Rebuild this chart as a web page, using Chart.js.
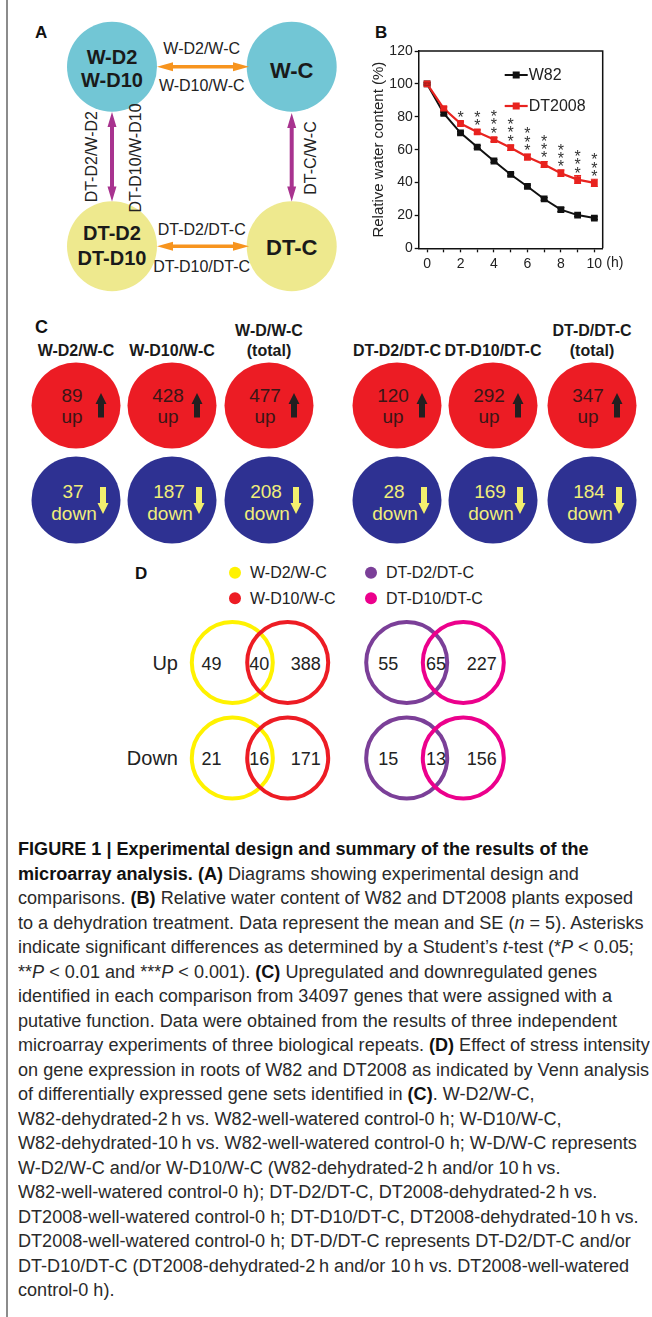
<!DOCTYPE html>
<html>
<head>
<meta charset="utf-8">
<script src="https://cdn.jsdelivr.net/npm/chart.js@4.4.1/dist/chart.umd.min.js"></script>
<style>
  body { margin: 0; background: #fff; width: 652px; height: 1317px; position: relative; overflow: hidden;
         font-family: "Liberation Sans", Arial, sans-serif; }
  #frame { position: absolute; left: 6px; top: 0; width: 1.5px; height: 1317px; background: #8c8c8c; }
  #fig { position: absolute; left: 0; top: 0; }
  #chartB { position: absolute; left: 360px; top: 36px; }
  #caption { position: absolute; left: 18px; top: 837px; font-family: "Liberation Sans Narrow", "Liberation Sans", Arial, sans-serif;
             font-size: 18px; line-height: 24.5px; color: #2a2a2a; white-space: nowrap; transform-origin: 0 0; }
  #caption b { color: #111; }
  svg text { font-family: "Liberation Sans", Arial, sans-serif; }
</style>
</head>
<body>
<div id="frame"></div>

<svg id="fig" width="652" height="830" xmlns="http://www.w3.org/2000/svg">
  <!-- panel A -->
  <text x="35" y="38" font-size="17" font-weight="bold" fill="#111">A</text>
  <circle cx="112" cy="66.7" r="45" fill="#72c6d5"/>
  <circle cx="291.7" cy="66.7" r="45" fill="#72c6d5"/>
  <circle cx="112" cy="246.3" r="45" fill="#eee98e"/>
  <circle cx="291.7" cy="246.3" r="45" fill="#eee98e"/>
  <g font-weight="bold" fill="#1a1a1a" text-anchor="middle" dominant-baseline="central">
    <text x="112" y="56.7" font-size="20">W-D2</text>
    <text x="112" y="80" font-size="20">W-D10</text>
    <text x="291.7" y="70" font-size="22">W-C</text>
    <text x="112" y="233.3" font-size="20">DT-D2</text>
    <text x="112" y="258.3" font-size="20">DT-D10</text>
    <text x="291.7" y="247" font-size="22">DT-C</text>
  </g>
  <g id="arrowsA"></g>
  <g font-size="16" fill="#222" text-anchor="middle" dominant-baseline="central">
    <text x="201.7" y="48.3">W-D2/W-C</text>
    <text x="201.7" y="85">W-D10/W-C</text>
    <text x="201.7" y="229.3">DT-D2/DT-C</text>
    <text x="201.7" y="266">DT-D10/DT-C</text>
    <text transform="translate(91.7,156.7) rotate(-90)">DT-D2/W-D2</text>
    <text transform="translate(135,158) rotate(-90)">DT-D10/W-D10</text>
    <text transform="translate(310,158) rotate(-90)">DT-C/W-C</text>
  </g>
  <!-- panel B label -->
  <text x="375" y="38" font-size="17" font-weight="bold" fill="#111">B</text>
  <!-- panel C -->
  <text x="35" y="333" font-size="18" font-weight="bold" fill="#111">C</text>
  <g id="panelC"></g>
  <!-- panel D -->
  <text x="135" y="579" font-size="17" font-weight="bold" fill="#111">D</text>
  <g id="panelD"></g>
</svg>

<canvas id="chartB" width="290" height="250"></canvas>

<div id="caption">
<div><span><b>FIGURE 1 | Experimental design and summary of the results of the</b></span></div>
<div><span><b>microarray analysis. (A)</b> Diagrams showing experimental design and</span></div>
<div><span id="fitLine">comparisons. <b>(B)</b> Relative water content of W82 and DT2008 plants exposed</span></div>
<div><span>to a dehydration treatment. Data represent the mean and SE (<i>n</i> = 5). Asterisks</span></div>
<div><span>indicate significant differences as determined by a Student’s <i>t</i>-test (*<i>P</i> &lt; 0.05;</span></div>
<div><span>**<i>P</i> &lt; 0.01 and ***<i>P</i> &lt; 0.001). <b>(C)</b> Upregulated and downregulated genes</span></div>
<div><span>identified in each comparison from 34097 genes that were assigned with a</span></div>
<div><span>putative function. Data were obtained from the results of three independent</span></div>
<div><span>microarray experiments of three biological repeats. <b>(D)</b> Effect of stress intensity</span></div>
<div><span>on gene expression in roots of W82 and DT2008 as indicated by Venn analysis</span></div>
<div><span>of differentially expressed gene sets identified in <b>(C)</b>. W-D2/W-C,</span></div>
<div><span>W82-dehydrated-2&thinsp;h vs. W82-well-watered control-0 h; W-D10/W-C,</span></div>
<div><span>W82-dehydrated-10&thinsp;h vs. W82-well-watered control-0 h; W-D/W-C represents</span></div>
<div><span>W-D2/W-C and/or W-D10/W-C (W82-dehydrated-2&thinsp;h and/or 10&thinsp;h vs.</span></div>
<div><span>W82-well-watered control-0 h); DT-D2/DT-C, DT2008-dehydrated-2&thinsp;h vs.</span></div>
<div><span>DT2008-well-watered control-0 h; DT-D10/DT-C, DT2008-dehydrated-10&thinsp;h vs.</span></div>
<div><span>DT2008-well-watered control-0 h; DT-D/DT-C represents DT-D2/DT-C and/or</span></div>
<div><span>DT-D10/DT-C (DT2008-dehydrated-2&thinsp;h and/or 10&thinsp;h vs. DT2008-well-watered</span></div>
<div><span>control-0 h).</span></div>
</div>

<script>
// panel B data (relative water content, %)
const hours = [0, 1, 2, 3, 4, 5, 6, 7, 8, 9, 10];
const w82 = [100, 82, 70.2, 61.6, 53.1, 44.9, 37.6, 30, 23.5, 20.2, 18.4];
const dt2008 = [100, 85, 75.9, 70.8, 66.1, 61.2, 55.5, 51, 45.7, 41.8, 39.8];
const w82Err = [0.6, 0.8, 0.8, 0.8, 0.8, 0.8, 0.8, 0.8, 1.2, 0.8, 0.8];
const dtErr = [0.6, 1, 1, 1.2, 1.2, 1.6, 1.8, 1.8, 2, 2.4, 2.2];
const sigStars = [0, 0, 1, 2, 3, 3, 3, 3, 3, 3, 3];
const xLabels = [0, 2, 4, 6, 8, 10];
const yTicks = [0, 20, 40, 60, 80, 100, 120];

// panel C data (gene counts)
const cHeads = [["W-D2/W-C"], ["W-D10/W-C"], ["W-D/W-C", "(total)"], ["DT-D2/DT-C"], ["DT-D10/DT-C"], ["DT-D/DT-C", "(total)"]];
const upCounts = [89, 428, 477, 120, 292, 347];
const downCounts = [37, 187, 208, 28, 169, 184];

// panel D data (Venn counts: only first, overlap, only second)
const vennNames = ["W-D2/W-C", "W-D10/W-C", "DT-D2/DT-C", "DT-D10/DT-C"];
const vennUp = [[49, 40, 388], [55, 65, 227]];
const vennDown = [[21, 16, 171], [15, 13, 156]];

const NS = "http://www.w3.org/2000/svg";
function mk(parent, tag, attrs, text) {
	const e = document.createElementNS(NS, tag);
	for (const k in attrs) e.setAttribute(k, attrs[k]);
	if (text !== undefined) e.textContent = text;
	parent.appendChild(e);
	return e;
}

// double headed arrows of panel A
function dblArrow(g, x1, y1, x2, y2, color, t, L, h) {
	const len = Math.hypot(x2 - x1, y2 - y1);
	const pts = [[0, 0], [L, -h], [L, -t], [len - L, -t], [len - L, -h], [len, 0], [len - L, h], [len - L, t], [L, t], [L, h]];
	const ang = Math.atan2(y2 - y1, x2 - x1) * 180 / Math.PI;
	mk(g, "polygon", {
		points: pts.map(p => p.join(",")).join(" "),
		fill: color,
		transform: `translate(${x1},${y1}) rotate(${ang})`,
	});
}
const gA = document.getElementById("arrowsA");
dblArrow(gA, 157, 66.7, 249, 66.7, "#f7941e", 1.7, 16, 4.5);
dblArrow(gA, 157, 246.3, 249, 246.3, "#f7941e", 1.7, 16, 4.5);
dblArrow(gA, 112, 112, 112, 201.5, "#a8338f", 2, 15, 4.5);
dblArrow(gA, 291.7, 113, 291.7, 201.5, "#a8338f", 2, 15, 4.5);

// panel C
const gC = document.getElementById("panelC");
const cX = [76, 172, 269, 397, 493, 592];
cHeads.forEach((lines, i) => {
	const cx = cX[i];
	lines.forEach((s, k) => {
		const y = lines.length === 2 ? 330 + k * 20 : 350;
		mk(gC, "text", { x: cx, y: y, "font-size": 16, "font-weight": "bold", fill: "#1a1a1a", "text-anchor": "middle", "dominant-baseline": "central" }, s);
	});
	mk(gC, "ellipse", { cx: cx, cy: 405.5, rx: 44.5, ry: 43, fill: "#ec1c24" });
	mk(gC, "ellipse", { cx: cx, cy: 500, rx: 44.5, ry: 43.5, fill: "#2e3192" });
	mk(gC, "text", { x: cx - 4, y: 395, "font-size": 19, fill: "#3a1616", "text-anchor": "middle", "dominant-baseline": "central" }, upCounts[i]);
	mk(gC, "text", { x: cx - 4, y: 416, "font-size": 19, fill: "#3a1616", "text-anchor": "middle", "dominant-baseline": "central" }, "up");
	mk(gC, "text", { x: cx - 3, y: 491.7, "font-size": 19, fill: "#f1ee7a", "text-anchor": "middle", "dominant-baseline": "central" }, downCounts[i]);
	mk(gC, "text", { x: cx - 2, y: 513.3, "font-size": 19, fill: "#f1ee7a", "text-anchor": "middle", "dominant-baseline": "central" }, "down");
	const ax = cx + 25;
	mk(gC, "polygon", { points: `${ax},393 ${ax + 5.5},404 ${ax + 3},404 ${ax + 3},417.5 ${ax - 3},417.5 ${ax - 3},404 ${ax - 5.5},404`, fill: "#231f20" });
	const dx = cx + 27;
	mk(gC, "polygon", { points: `${dx},514 ${dx + 5.5},503 ${dx + 3},503 ${dx + 3},487 ${dx - 3},487 ${dx - 3},503 ${dx - 5.5},503`, fill: "#f3ef6e" });
});

// panel D
const gD = document.getElementById("panelD");
const vennColors = ["#fff200", "#ed1c24", "#7b3f98", "#ec008c"];
const legPos = [[235, 572.7], [235, 598.3], [371, 572.7], [371, 598.3]];
vennNames.forEach((n, i) => {
	mk(gD, "circle", { cx: legPos[i][0], cy: legPos[i][1], r: 6, fill: vennColors[i] });
	mk(gD, "text", { x: legPos[i][0] + 15, y: legPos[i][1], "font-size": 16, fill: "#222", "dominant-baseline": "central" }, n);
});
const pairX = [[232.3, 287.7], [406.7, 463.3]];
const numX = [[211.5, 259.3, 305.7], [388.3, 436, 481.7]];
[[vennUp, 662.5, "Up"], [vennDown, 758, "Down"]].forEach(([rows, cy, lab]) => {
	mk(gD, "text", { x: 178, y: cy, "font-size": 20, fill: "#222", "text-anchor": "end", "dominant-baseline": "central" }, lab);
	rows.forEach((vals, p) => {
		mk(gD, "circle", { cx: pairX[p][0], cy: cy, r: 40.5, fill: "none", stroke: vennColors[p * 2], "stroke-width": 4 });
		mk(gD, "circle", { cx: pairX[p][1], cy: cy, r: 40.5, fill: "none", stroke: vennColors[p * 2 + 1], "stroke-width": 4 });
		vals.forEach((v, k) => {
			mk(gD, "text", { x: numX[p][k], y: cy + 1, "font-size": 18, fill: "#222", "text-anchor": "middle", "dominant-baseline": "central" }, v);
		});
	});
});

// panel B chart
const fam = '"Liberation Sans", Arial, sans-serif';

const errorBars = {
	id: "errorBars",
	afterDatasetsDraw(chart) {
		const ctx = chart.ctx;
		const ys = chart.scales.y;
		chart.data.datasets.forEach((ds, i) => {
			const meta = chart.getDatasetMeta(i);
			ctx.save();
			ctx.strokeStyle = ds.borderColor;
			ctx.lineWidth = 1.2;
			meta.data.forEach((pt, j) => {
				const e = ds.err[j];
				const yt = ys.getPixelForValue(ds.data[j].y + e);
				const yb = ys.getPixelForValue(ds.data[j].y - e);
				ctx.beginPath();
				ctx.moveTo(pt.x, yt); ctx.lineTo(pt.x, yb);
				ctx.moveTo(pt.x - 3.5, yt); ctx.lineTo(pt.x + 3.5, yt);
				ctx.moveTo(pt.x - 3.5, yb); ctx.lineTo(pt.x + 3.5, yb);
				ctx.stroke();
			});
			ctx.restore();
		});
	},
};

const starsPlugin = {
	id: "stars",
	afterDatasetsDraw(chart) {
		const ctx = chart.ctx;
		const xs = chart.scales.x, ys = chart.scales.y;
		ctx.save();
		ctx.fillStyle = "#333";
		ctx.font = "16px " + fam;
		ctx.textAlign = "center";
		ctx.textBaseline = "alphabetic";
		sigStars.forEach((n, j) => {
			const x = xs.getPixelForValue(hours[j]);
			const y0 = ys.getPixelForValue(dt2008[j]) - 10;
			for (let k = 0; k < n; k++) {
				ctx.fillText("*", x, y0 - k * 8.3 + 9);
			}
		});
		ctx.restore();
	},
};

const boxAndLegend = {
	id: "boxAndLegend",
	afterDraw(chart) {
		const ctx = chart.ctx;
		const a = chart.chartArea;
		ctx.save();
		// top and right frame
		ctx.strokeStyle = "#111";
		ctx.lineWidth = 1.5;
		ctx.beginPath();
		ctx.moveTo(a.left, a.top); ctx.lineTo(a.right, a.top); ctx.lineTo(a.right, a.bottom);
		ctx.stroke();
		// "(h)" after the last tick label
		ctx.fillStyle = "#222";
		ctx.font = "14px " + fam;
		ctx.textAlign = "left";
		ctx.textBaseline = "middle";
		ctx.fillText("(h)", chart.scales.x.getPixelForValue(10) + 12, a.bottom + 15);
		// legend
		ctx.font = "16px " + fam;
		chart.data.datasets.forEach((ds, i) => {
			const y = a.top + 24 + i * 31;
			const x0 = a.left + 86;
			ctx.strokeStyle = ds.borderColor;
			ctx.lineWidth = ds.borderWidth;
			ctx.beginPath();
			ctx.moveTo(x0, y); ctx.lineTo(x0 + 23, y);
			ctx.stroke();
			ctx.fillStyle = ds.borderColor;
			ctx.fillRect(x0 + 11.5 - 3.5, y - 3.5, 7, 7);
			ctx.fillStyle = "#222";
			ctx.fillText(ds.label, x0 + 24, y + 1);
		});
		ctx.restore();
	},
};

const axisStyle = {
	grid: { drawOnChartArea: false, tickLength: 4, tickWidth: 1.3, tickColor: "#111" },
	border: { color: "#111", width: 1.5 },
};

new Chart(document.getElementById("chartB"), {
	type: "line",
	data: {
		datasets: [
			{
				label: "W82",
				data: hours.map((h, i) => ({ x: h, y: w82[i] })),
				err: w82Err,
				borderColor: "#111",
				backgroundColor: "#111",
				borderWidth: 2,
				pointStyle: "rect",
				pointRadius: 4.8,
				pointBorderWidth: 0,
				tension: 0,
				order: 2,
			},
			{
				label: "DT2008",
				data: hours.map((h, i) => ({ x: h, y: dt2008[i] })),
				err: dtErr,
				borderColor: "#e8231f",
				backgroundColor: "#e8231f",
				borderWidth: 2.2,
				pointStyle: "rect",
				pointRadius: 4.8,
				pointBorderWidth: 0,
				tension: 0,
				order: 1,
			},
		],
	},
	options: {
		responsive: false,
		animation: false,
		events: [],
		layout: { padding: { top: 15, right: 47.3, left: 0, bottom: 0 } },
		plugins: { legend: { display: false }, tooltip: { enabled: false } },
		scales: {
			x: {
				type: "linear",
				min: -0.5,
				max: 10.5,
				afterBuildTicks: (s) => { s.ticks = hours.map((v) => ({ value: v })); },
				afterFit: (s) => { s.height = 37.7; },
				ticks: {
					autoSkip: false,
					maxRotation: 0,
					padding: 3,
					color: "#222",
					font: { size: 14, family: fam },
					callback: (v) => (xLabels.includes(v) ? String(v) : ""),
				},
				...axisStyle,
			},
			y: {
				min: 0,
				max: 120,
				afterBuildTicks: (s) => { s.ticks = yTicks.map((v) => ({ value: v })); },
				afterFit: (s) => { s.width = 58.7; },
				ticks: { padding: 2, color: "#222", font: { size: 14, family: fam } },
				title: {
					display: true,
					text: "Relative water content (%)",
					color: "#222",
					font: { size: 15, family: fam },
					padding: { top: 10, bottom: 0 },
				},
				...axisStyle,
			},
		},
	},
	plugins: [errorBars, starsPlugin, boxAndLegend],
});

// squeeze the caption to the column width of the reference
const cap = document.getElementById("caption");
const w = document.getElementById("fitLine").getBoundingClientRect().width;
cap.style.transform = "scaleX(" + (615 / w) + ")";
</script>
</body>
</html>
